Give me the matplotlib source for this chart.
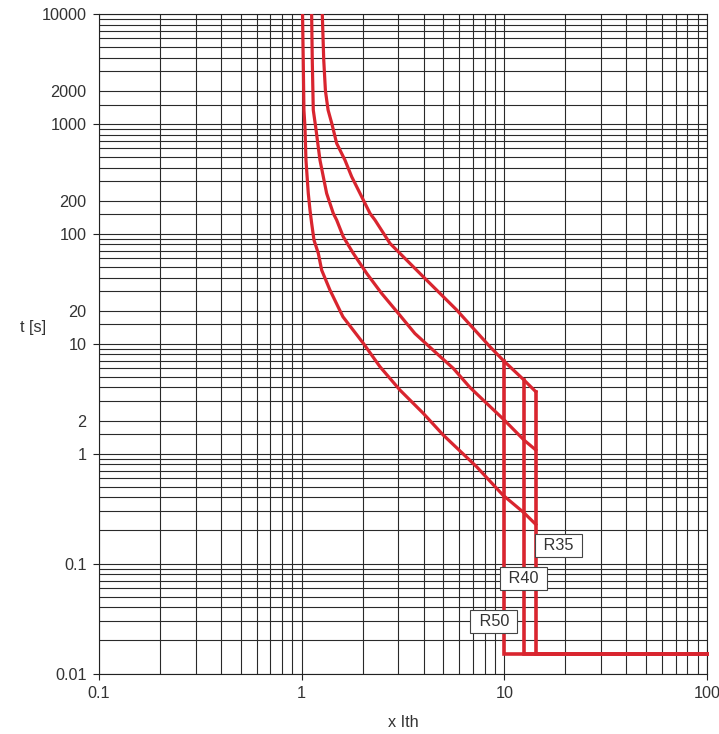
import matplotlib.pyplot as plt
import numpy as np
from matplotlib.ticker import FixedLocator, FuncFormatter

plt.rcParams['font.family'] = ['Liberation Sans', 'DejaVu Sans']

# tripping curves (multiple of Ith, time in s)
x_a = [1.01, 1.018, 1.026, 1.038, 1.05, 1.078, 1.099, 1.12, 1.15, 1.208, 1.255, 1.379, 1.598,
       2.014, 2.434, 3.055, 3.98, 4.99, 7.30, 9.84, 12.5, 14.3]
t_a = [10000, 3814, 1338, 943, 469, 233.6, 165, 125, 87.8, 66.5, 46.8, 30.8, 17.6,
       10.1, 6.18, 3.79, 2.33, 1.48, 0.76, 0.42, 0.29, 0.227]

x_b = [1.12, 1.128, 1.141, 1.172, 1.231, 1.328, 1.432, 1.488, 1.604, 1.797, 2.093, 2.481,
       2.998, 3.62, 4.634, 5.6, 6.77, 10.0, 12.5, 14.3]
t_b = [10000, 3814, 1338, 943, 469, 233.6, 153.6, 133.6, 94.1, 66.5, 43.7, 28.7,
       18.9, 12.4, 8.18, 5.97, 4.0, 2.02, 1.33, 1.08]

x_c = [1.264, 1.285, 1.31, 1.35, 1.41, 1.488, 1.635, 1.765, 1.94, 2.173, 2.3, 2.727,
       3.98, 5.817, 8.49, 10.0, 12.5, 14.3]
t_c = [10000, 3814, 2000, 1338, 1000, 666, 469, 331, 233.6, 153.6, 133.6, 81.9,
       40.7, 20.3, 9.4, 6.9, 4.68, 3.66]

# instantaneous trip per rating
ratings = ['R50', 'R40', 'R35']
trip_x = [10.0, 12.5, 14.3]
trip_top = [6.9, 4.68, 3.66]
t_min = 0.0149
x_max = 100

label_x = [8.89, 12.4, 18.4]
label_y = [0.0295, 0.0733, 0.147]

red = '#d9252f'
txt = '#333333'

fig = plt.figure(figsize=(7.19, 7.34), dpi=100)
ax = fig.add_axes([99 / 719, 60.5 / 734, 608 / 719, 659.5 / 734])
ax.set_xscale('log')
ax.set_yscale('log')
ax.set_xlim(0.1, 100)
ax.set_ylim(0.01, 10000)

# grid values
y_major = [0.01, 0.1, 1, 10, 100, 1000, 10000]
y_minor = []
for d in [0.01, 0.1, 1, 10, 100, 1000]:
    y_minor += [k * d for k in range(2, 10)]
    if d >= 1:
        y_minor.append(1.5 * d)
y_minor_labels = [2, 20, 200, 2000]

x_major = [0.1, 1, 10, 100]
x_minor = [k * d for d in [0.1, 1, 10] for k in range(2, 10)]

ax.yaxis.set_major_locator(FixedLocator(y_major))
ax.yaxis.set_minor_locator(FixedLocator(sorted(y_minor)))
ax.xaxis.set_major_locator(FixedLocator(x_major))
ax.xaxis.set_minor_locator(FixedLocator(x_minor))


def fmt(v, pos=None):
    return ('%g' % v)


def fmt_minor(v, pos=None):
    for m in y_minor_labels:
        if abs(v - m) / m < 1e-6:
            return '%g' % m
    return ''


ax.yaxis.set_major_formatter(FuncFormatter(fmt))
ax.yaxis.set_minor_formatter(FuncFormatter(fmt_minor))
ax.xaxis.set_major_formatter(FuncFormatter(fmt))
ax.xaxis.set_minor_formatter(FuncFormatter(lambda v, p: ''))

ax.tick_params(which='major', length=4, width=0.8, color='#222222', labelsize=11.7,
               labelcolor=txt, pad=5)
ax.tick_params(which='minor', length=0, labelsize=11.7, labelcolor=txt, pad=9)
ax.grid(True, which='both', color='#2a2a2a', linewidth=0.8)
ax.set_axisbelow(True)
for s in ax.spines.values():
    s.set_color('#222222')
    s.set_linewidth(0.8)

ax.plot(x_a, t_a, color=red, lw=2.3, zorder=3)
ax.plot(x_b, t_b, color=red, lw=2.3, zorder=3)
ax.plot(x_c, t_c, color=red, lw=2.3, zorder=3)

for xv, top in zip(trip_x, trip_top):
    ax.plot([xv, xv, x_max], [top, t_min, t_min], color=red, lw=2.6, zorder=3,
            solid_joinstyle='miter', clip_on=False)

for name, lx, ly in zip(ratings, label_x, label_y):
    ax.text(lx, ly, ' ' + name + ' ', ha='center', va='center', fontsize=11.7, color=txt,
            zorder=5,
            bbox=dict(boxstyle='square,pad=0.25', facecolor='white', edgecolor='#444444', lw=0.8))

ax.set_ylabel('t [s]', fontsize=11.7, color=txt, rotation=0, labelpad=0, va='center')
ax.yaxis.set_label_coords(-0.108, 0.524)
ax.set_xlabel('x Ith', fontsize=11.7, color=txt, labelpad=10)

fig.savefig('out.png', dpi=100)
